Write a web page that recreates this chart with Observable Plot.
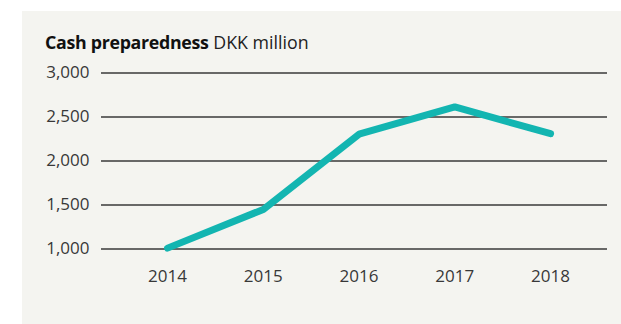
<!DOCTYPE html>
<html>
<head>
<meta charset="utf-8">
<script src="https://cdn.jsdelivr.net/npm/d3@7"></script>
<script src="https://cdn.jsdelivr.net/npm/@observablehq/plot@0.6"></script>
<style>
  body { margin: 0; background: #fff; }
  #wrap { position: relative; width: 621px; height: 324px; overflow: hidden; font-family: "Open Sans", sans-serif; }
  #panel { position: absolute; left: 22px; top: 11px; width: 599px; height: 313px; background: #f4f4f0; }
  #title { position: absolute; left: 45px; top: 30px; font-size: 17.8px; color: #222; white-space: nowrap; }
  #title b { font-weight: 700; color: #111; letter-spacing: -0.3px; }
  #chart { position: absolute; left: 0; top: 0; }
</style>
</head>
<body>
<div id="wrap">
  <div id="panel"></div>
  <div id="title"><b>Cash preparedness</b> DKK million</div>
  <div id="chart"></div>
</div>
<script>
const years = [2014, 2015, 2016, 2017, 2018];
const cash = [1010, 1450, 2305, 2615, 2310];
const yTicks = [1000, 1500, 2000, 2500, 3000];

const data = years.map((y, i) => ({year: y, value: cash[i]}));

const plot = Plot.plot({
  width: 621,
  height: 324,
  marginLeft: 101,
  marginRight: 14,
  marginTop: 72.5,
  marginBottom: 75.5,
  style: {background: "transparent", fontFamily: "Open Sans, sans-serif", fontSize: "17px", color: "#333"},
  x: {type: "linear", domain: [2013.31, 2018.595], ticks: years, tickFormat: "d"},
  y: {domain: [1000, 3000], ticks: yTicks},
  marks: [
    Plot.ruleY(yTicks, {stroke: "#3a3a3a", strokeWidth: 1.3}),
    Plot.axisY({ticks: yTicks, tickSize: 0, tickPadding: 12, tickFormat: d3.format(","), label: null, fill: "#383838"}),
    Plot.axisX({ticks: years, tickSize: 0, tickPadding: 21, tickFormat: "d", label: null, fill: "#383838"}),
    Plot.line(data, {x: "year", y: "value", stroke: "#13b5b1", strokeWidth: 7, strokeLinecap: "round", strokeLinejoin: "miter"})
  ]
});
document.getElementById("chart").appendChild(plot);
</script>
</body>
</html>
